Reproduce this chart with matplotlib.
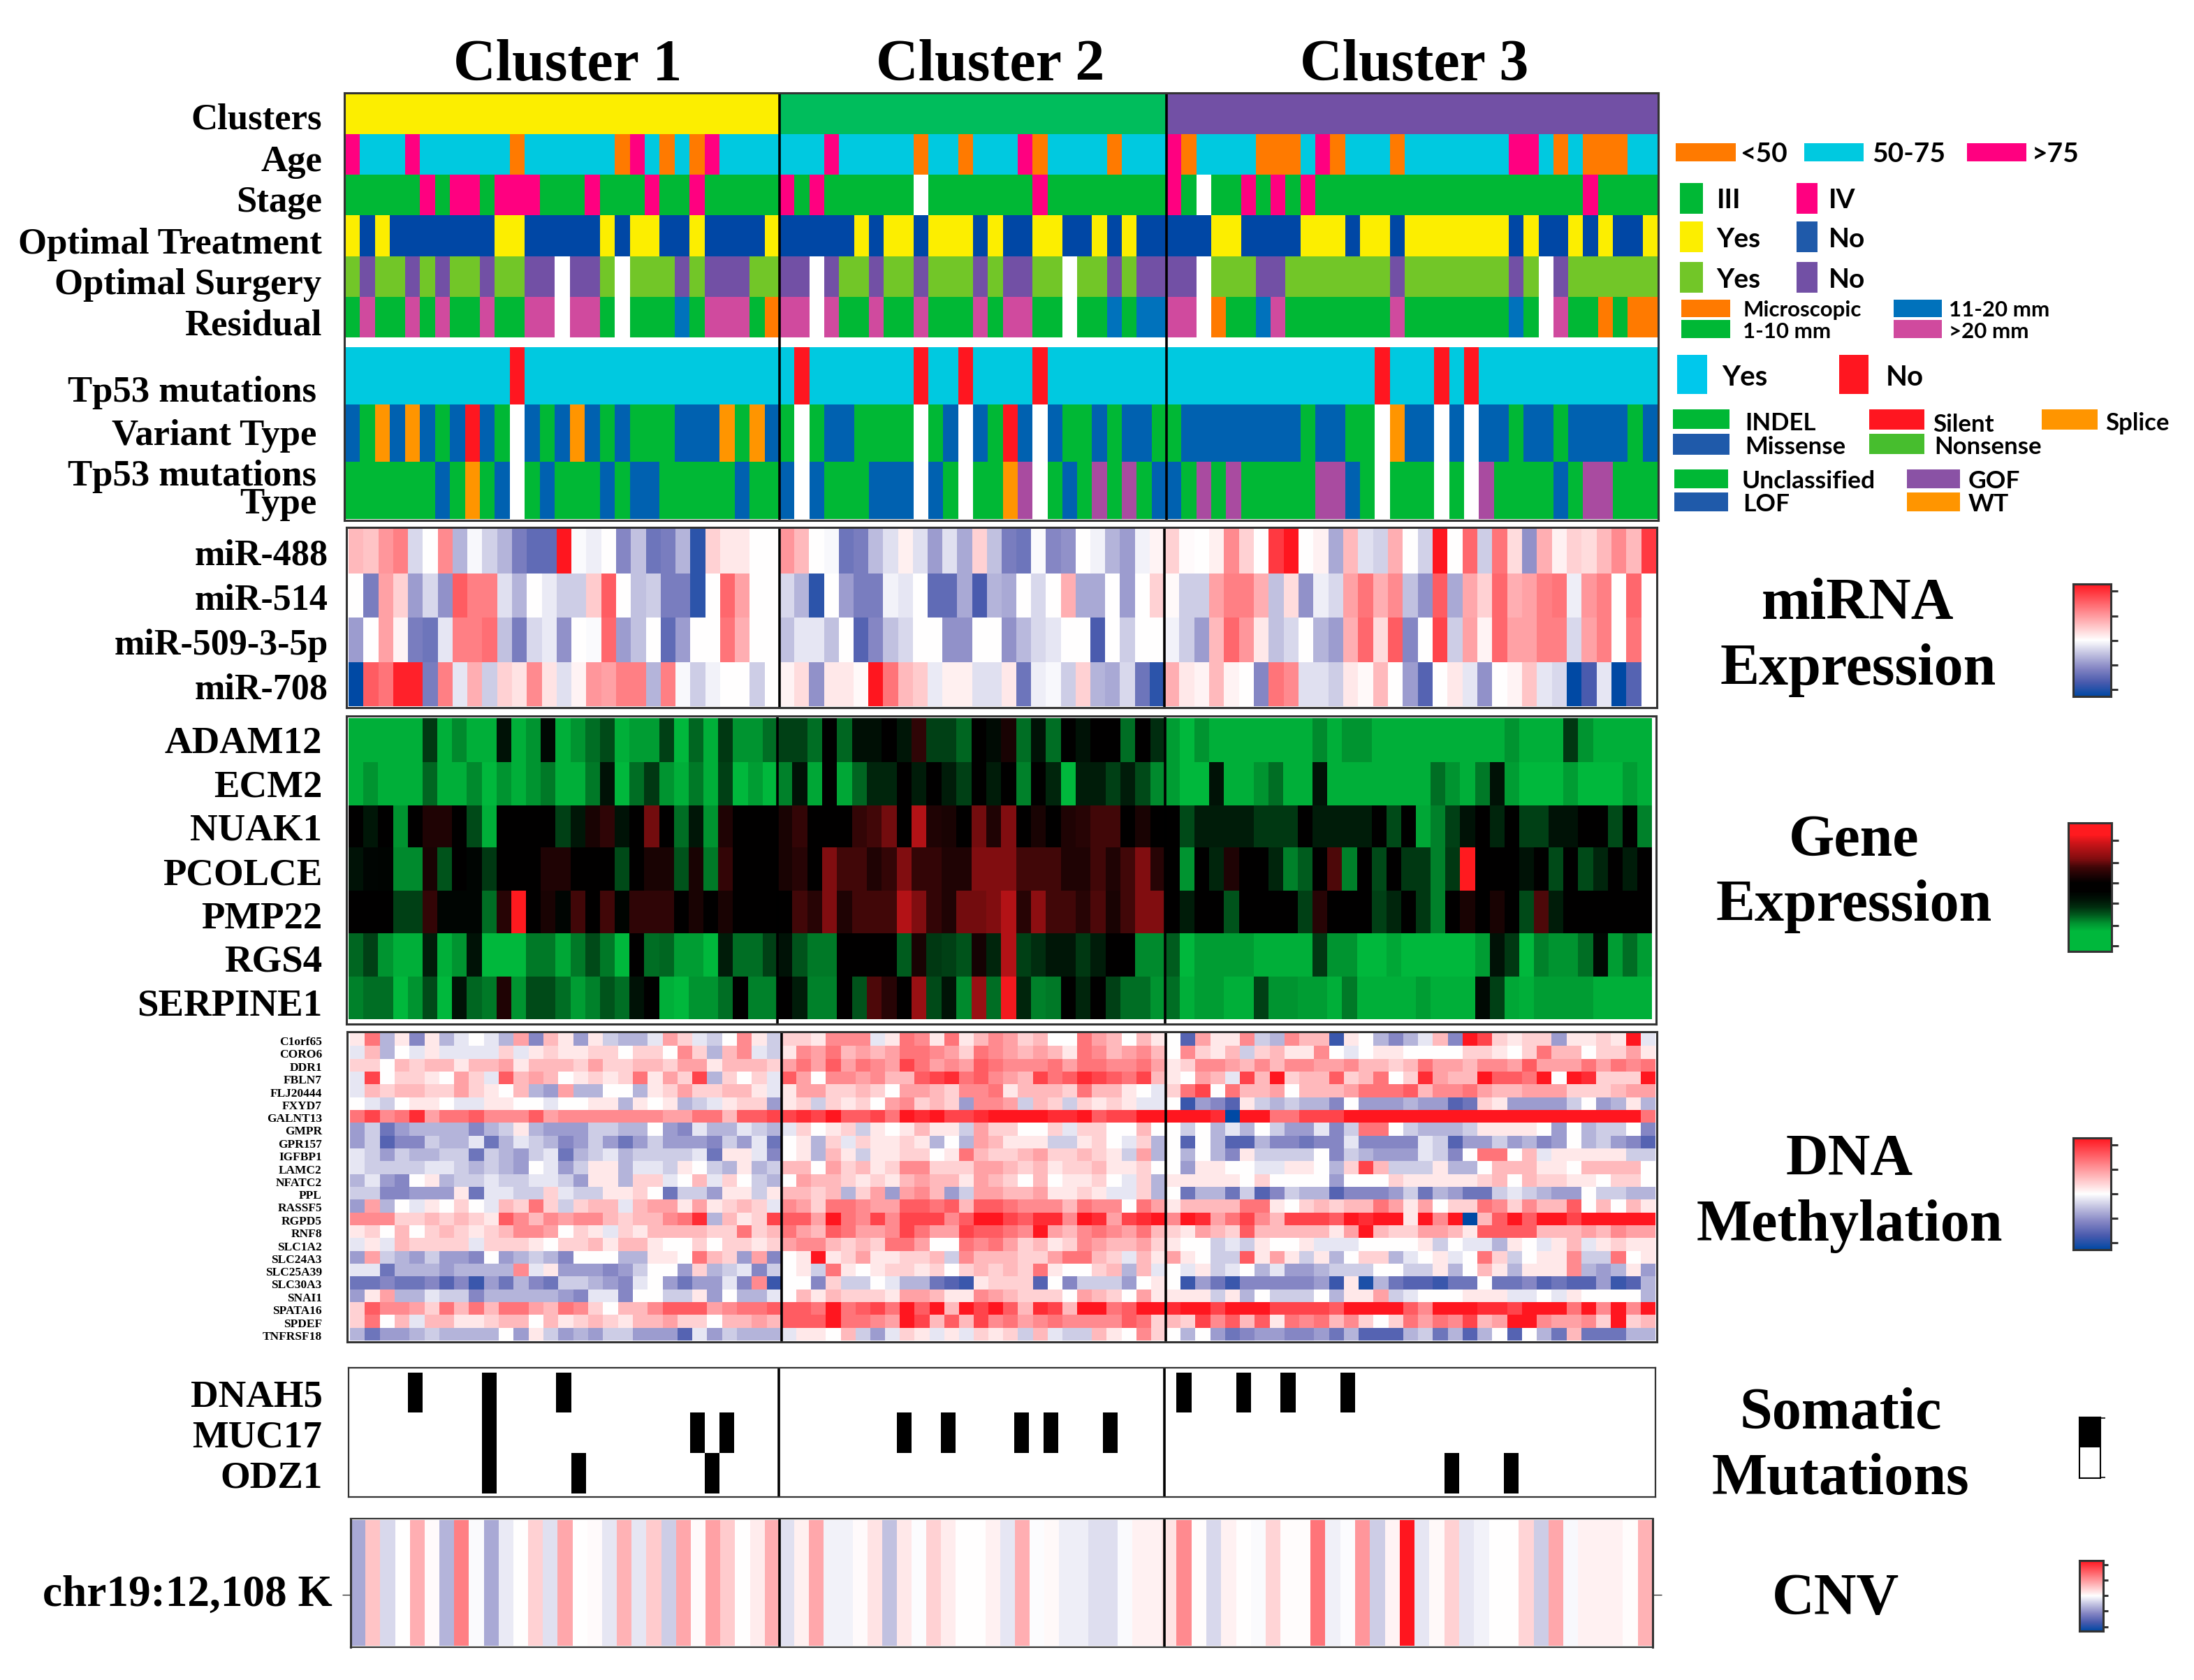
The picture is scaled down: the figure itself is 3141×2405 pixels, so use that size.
"""卵巣がんクラスタのヒートマップ"""

import matplotlib
matplotlib.use("Agg")
import matplotlib.pyplot as plt
import numpy as np
from matplotlib.colors import LinearSegmentedColormap, Normalize, to_rgb
from matplotlib.patches import Rectangle

W, H = 3141, 2405
SERIF = "Liberation Serif"
SANS = "Lato"

# annotation rows, one character per sample
CLUSTERS = "Y" * 29 + "N" * 26 + "U" * 33
AGE = "PCCCPCCCCCCOCCCCCCOPCOCOPCCCC" + "CCCPCCCCCOCCOCCCPOCCCCOCCC" + "POCCCCOOOCPOCCCOCCCCCCCPPCOCOOOCC"
STAGE = "GGGGGPGPPGPPPGGGPGGGPGGPGGGGG" + "PGPGGGGGGWGGGGGGGPGGGGGGGG" + "PGWGGPGPGPGGGGGGGGGGGGGGGGGGPGGGG"
TREATMENT = "YBYBBBBBBBYYBBBBBYBYYBBYBBBBY" + "BBBBBYBYYBYYYBYBBYYBBYBYBB" + "BBBYYBBBBYYYBYYBYYYYYYYBYBBYBYBBY"
SURGERY = "LVLLVLVLLVLLVVWVVLWLLLVLVVVLL" + "VVWVLLVLLVLLLVLVVLLWLLVLVV" + "VVWLLLVVLLLLLLLVLLLLLLLVLWVLLLLLL"
RESIDUAL = "GMGGMGMGGMGGMMWMMGWGGGTGMMMGO" + "MMWMGGMGGMGGGMGMMGGWGGTGTT" + "MMWOGGTMGGGGGGGMGGGGGGGTGWMGGOGOO"
GAP = "W" * 88
TP53 = "CCCCCCCCCCCRCCCCCCCCCCCCCCCCC" + "CRCCCCCCCRCCRCCCCRCCCCCCCC" + "CCCCCCCCCCCCCCRCCCRCRCCCCCCCCCCCC"
VARIANT = "BGOBOBGBRBGWBGBOBGBGGGBBBOGOB" + "GWGBBGGGGWGBWBGRBWBGGBGBBG" + "GBBBBBBBBGBBGGWOBBWBWBBGBBGBBBBGB"
TP53_TYPE = "GGGGGGBGOGBWGBGGGBGBBGGGGGBGG" + "BWBGGGBBBWBGWGGOVWGBGVGVGB" + "BGVGVGGGGGVVBGWGGGWGWVGGGGBGVVGGG"

ANNOT_LABELS = ["Clusters", "Age", "Stage", "Optimal Treatment", "Optimal Surgery",
                "Residual", "Tp53 mutations", "Variant Type", "Tp53 mutations\nType"]

MIRNA_LABELS = ["miR-488", "miR-514", "miR-509-3-5p", "miR-708"]
MIRNA_C1 = [
    [.3, .25, .45, .55, -.15, 0, .5, -.3, -.03, -.18, -.3, -.55, -.65, -.65, 1, -.02, -.07, 0, -.5, -.25, -.6, -.55, -.3, -.85, .2, .1, .1, 0, 0],
    [0, -.55, .4, .2, -.4, -.15, -.45, .7, .55, .55, -.12, -.3, 0, -.08, -.2, -.2, .22, .7, 0, -.25, -.2, -.55, -.55, -.85, 0, .65, .4, 0, 0],
    [-.4, 0, .4, .05, -.55, -.6, -.1, .55, .55, .62, -.25, -.55, -.15, -.08, -.45, 0, -.02, .65, -.4, -.25, 0, -.65, -.4, 0, 0, .6, .35, 0, 0],
    [-1, .7, .6, .95, .95, -.55, .55, -.1, .35, -.2, .2, .12, .5, .12, -.12, .05, .45, .4, .55, .55, -.3, .55, -.03, -.2, -.05, 0, 0, -.2, 0],
]
MIRNA_C2 = [
    [.45, .3, 0, -.03, -.6, -.55, -.27, -.12, .07, -.12, -.4, -.12, -.35, .2, -.25, -.55, -.6, -.02, -.5, -.45, 0, -.05, -.3, -.4, -.05, .05],
    [-.15, -.3, -.85, 0, -.4, -.55, -.55, -.05, -.1, 0, -.65, -.65, -.35, -.75, -.3, -.35, 0, -.15, 0, .35, -.35, -.35, 0, -.4, 0, .2],
    [-.25, -.1, -.1, -.25, 0, -.7, -.5, -.25, -.15, 0, 0, -.45, -.45, 0, 0, -.45, -.28, -.15, -.1, 0, 0, -.75, 0, -.2, 0, 0],
    [.05, .15, -.45, .1, .1, .03, 1, .6, .3, .22, -.08, .07, .07, -.12, -.12, .1, -.6, -.07, -.03, -.2, .2, -.3, -.35, -.15, -.6, -.85],
]
MIRNA_C3 = [
    [.2, .02, 0, .07, .5, .2, 0, .85, 1, 0, .06, -.35, .3, -.12, -.18, .35, 0, -.18, 1, 0, .65, -.2, .6, .15, -.45, .35, .06, .2, .15, .3, .5, .3, .85],
    [.03, -.2, -.2, .4, .55, .55, .35, -.25, .15, -.45, -.07, -.15, .4, .6, .35, .5, -.25, -.45, .7, -.35, .38, .2, .65, .35, .4, .55, .6, -.07, .45, .55, 0, .65, 0],
    [-.05, -.2, -.4, .3, .65, .45, .1, -.25, -.15, 0, -.3, -.4, .35, .65, .15, .7, -.5, 0, .8, -.2, .4, .05, .65, .4, .4, .55, .55, -.15, .4, .55, 0, .6, 0],
    [.35, .1, .05, .3, .05, 0, -.5, .6, .5, -.12, -.12, -.2, .1, .03, .3, 0, -.4, -.7, 0, .1, -.1, -.45, 0, .05, .25, -.1, -.15, -1, -.75, -.1, -1, -.7, 0],
]

GENE_LABELS = ["ADAM12", "ECM2", "NUAK1", "PCOLCE", "PMP22", "RGS4", "SERPINE1"]
GENE_C1 = [
    [-.95, -.95, -.95, -.95, -.95, -.3, -.95, -.75, -.95, -.95, -.1, -.95, -.8, -.05, -.95, -.8, -.6, -.4, -.95, -.85, -.85, -.35, -1, -.55, -.95, -.3, -.8, -.8, -.6],
    [-.95, -.8, -.95, -.95, -.95, -.55, -.95, -.95, -.75, -1, -.8, -.95, -.8, -.65, -.95, -.95, -.65, -.1, -1, -.6, -.3, -.8, -.95, -.65, -.95, -.35, -1, -.85, -1],
    [0, -.12, 0, -.8, 0, .12, .12, 0, -.4, -.95, 0, 0, 0, 0, -.35, -.12, .1, .18, -.1, 0, .45, 0, -.6, -.12, -.8, .12, 0, 0, 0],
    [-.1, -.03, -.02, -.75, -.75, .1, -.45, 0, -.03, -.3, 0, 0, 0, .12, .12, 0, 0, 0, -.4, 0, .1, .1, -.45, .1, -.65, .2, 0, 0, 0],
    [0, 0, 0, -.35, -.35, .2, -.03, -.03, -.03, -.6, .15, 1, 0, .1, -.03, .25, 0, .25, -.02, .18, .18, .18, 0, .1, 0, .1, 0, 0, 0],
    [-.55, -.35, -.8, -.95, -.95, -.15, -.95, -.8, -.1, -1, -1, -1, -.65, -.65, -.9, -.65, -.4, -.65, -1, 0, -.6, -.55, -.85, -.85, -1, -.15, -.6, -.6, -.35],
    [-.7, -.6, -.6, -1, -.8, -.4, -1, -.1, -.55, -.65, .12, -.8, -.4, -.4, -.6, -.85, -.7, -.45, -.6, -.1, 0, -.95, -1, -.8, -.8, -.6, 0, -.7, -.7],
]
GENE_C2 = [
    [-.35, -.35, -.6, 0, -.55, -.08, -.08, 0, -.12, .18, -.35, -.35, -.55, 0, -.06, .1, -.6, -.1, -.6, 0, -.1, 0, 0, -.6, 0, -.25],
    [-.7, -.1, -.9, 0, -.9, -.55, -.2, -.2, 0, -.15, 0, -.15, -.35, 0, -.15, 0, -.7, 0, -.2, -1, -.15, -.15, -.35, -.15, -.4, -.75],
    [.1, .2, 0, 0, 0, .2, .25, .45, 0, .7, .12, .1, 0, .45, .12, .5, 0, .1, 0, .12, .15, .25, .25, 0, .1, 0],
    [.1, .15, 0, .5, .25, .25, .12, .2, .5, .2, .2, .12, .12, .5, .5, .5, .25, .25, .25, .12, .12, .25, .12, .25, .5, .15],
    [0, .25, .15, .5, .12, .25, .25, .25, .7, .5, .2, .12, .45, .45, .5, .7, .15, .55, .25, .25, .15, .3, .1, .25, .5, .5],
    [-.1, -.45, -.65, -.65, 0, 0, 0, 0, -.5, .1, -.3, -.35, -.45, .08, -.2, .7, -.35, -.25, -.12, -.12, -.3, -.15, 0, 0, -.75, -.75],
    [0, -.15, -.7, -.7, 0, -.45, .3, .15, 0, .6, -.4, -.1, -.75, .6, -.6, .95, -.2, -.7, -.65, 0, -.2, 0, -.35, -.6, -.6, -.8],
]
GENE_C3 = [
    [-.85, -1, -.8, -.95, -.95, -.95, -.95, -.95, -.95, -.95, -.75, -.95, -.8, -.8, -.95, -.95, -.95, -.95, -.95, -.95, -.95, -.95, -.95, -.8, -.95, -.95, -.95, -.3, -.8, -.95, -.95, -.95, -.95],
    [-.85, -1, -1, -.1, -.95, -.95, -.8, -.6, -.95, -.95, -.1, -.95, -.95, -.95, -.95, -.95, -.95, -.95, -.6, -.8, -.95, -.65, -.1, -.85, -1, -1, -1, -.85, -1, -1, -1, -.85, -.95],
    [0, -.4, -.15, -.15, -.15, -.15, -.3, -.3, -.3, 0, -.15, -.15, -.15, -.15, 0, -.4, 0, -.9, -.7, -.35, -.1, 0, -.2, 0, -.35, -.35, -.1, -.1, 0, 0, -.4, 0, -.7],
    [0, -.8, 0, -.2, .12, 0, 0, -.2, -.7, -.5, 0, .3, -.7, 0, -.4, 0, -.3, -.3, -.7, -.3, 1, 0, 0, 0, -.1, 0, -.4, 0, -.4, -.2, 0, -.15, 0],
    [0, -.15, 0, 0, -.45, 0, 0, 0, 0, -.35, .15, 0, 0, 0, -.35, -.2, 0, -.3, -.7, 0, .1, 0, .1, 0, -.4, .3, -.15, 0, 0, 0, 0, 0, 0],
    [-.5, -1, -.85, -.85, -.85, -.85, -.95, -.95, -.95, -.95, -.3, -.8, -.8, -1, -1, -.9, -1, -1, -1, -1, -1, -.85, -.1, -.3, -1, -.7, -.8, -.8, -.6, -.05, -.85, -.6, -.85],
    [-.6, -.95, -.85, -.85, -.95, -.95, -.35, -.8, -.8, -.85, -.85, -.95, -.65, -.95, -.95, -.95, -.95, -.85, -.95, -.95, -.95, -.05, -.35, -.9, -.95, -.85, -.85, -.85, -.85, -.95, -.95, -.95, -.95],
]
GENE_BAR = [1, 1, .8, .65, .5, .25, .12, 0, 0, -.1, -.25, -.5, -.8, -1, -1, -1]

METH_LABELS = ["C1orf65", "CORO6", "DDR1", "FBLN7", "FLJ20444", "FXYD7", "GALNT13", "GMPR",
               "GPR157", "IGFBP1", "LAMC2", "NFATC2", "PPL", "RASSF5", "RGPD5", "RNF8",
               "SLC1A2", "SLC24A3", "SLC25A39", "SLC30A3", "SNAI1", "SPATA16", "SPDEF", "TNFRSF18"]
# 1-9,X = red levels, a-j = blue levels, 0 = white
METH_C1 = [
    "16c1e1ca0ac4e31d1bcca42ab051b",
    "a3c0a1aaaa" + "2a12112202" + "2052c35ab",
    "2203233133" + "4133324223" + "324413332",
    "a80221042a" + "7343012126" + "1428c202a",
    "a323322421" + "03cd4cc00c" + "12422331a",
    "0ab0110aa1" + "100a0011c1" + "01cba122d",
    "6856946675" + "5574555555" + "544663778",
    "dbfdccccec" + "b1cdddbbcc" + "0deaccabc",
    "dbgeebccaf" + "cabcedbdfd" + "bdddebdaf",
    "abdbccbbfb" + "cdbafcbacb" + "bbbaf11ae",
    "abbbbaabcb" + "cd0adb11ca" + "ab10bc1cb",
    "cade01cbba" + "bbaabd11c2" + "2a03a20bc",
    "bbeeddd1fa" + "abb2abb112" + "0fbbd11b1",
    "d4c0a1020a" + "3262b233a3" + "44141232a",
    "5552232321" + "7535455323" + "3569c3128",
    "1203023212" + "3554021a21" + "333322623",
    "a1a32222a2" + "2210223133" + "100202212",
    "d4bcdbdde0" + "dcbce000cc" + "110632d4e",
    "aafcccdccc" + "c5a1dddedb" + "00d2cbaeb",
    "ffeffegehd" + "fcefbbcdea" + "0dfddae5h",
    "d14ccabbec" + "ccccdeaae0" + "0bb1d0cca",
    "2755426363" + "6643652033" + "577745667",
    "2603a33112" + "3303123213" + "342203343",
    "cfddcbcccc" + "0d1bdcdbbd" + "ddgadbccc",
]
METH_C2 = [
    "221555a165" + "161354" + "2300643031",
    "1546343466" + "542654" + "3431653453",
    "4647465486" + "454765" + "5564665564",
    "7405545337" + "896754" + "3867987683",
    "1442232044" + "325561" + "333263310a",
    "12b2120452" + "32d554" + "b32b2121aa",
    "898X7786X9" + "X889XX" + "XX99X788XX",
    "a2012b1013" + "11b422" + "002a220030",
    "01c2a21121" + "c0c431" + "11bb120a2c",
    "01c31b1122" + "016322" + "3422321b4c",
    "3304231255" + "222443" + "2312231120",
    "0433212134" + "331432" + "0301120a2c",
    "3323c24d45" + "3db443" + "341121aa2c",
    "5426654477" + "673776" + "5553655064",
    "774X658588" + "857XX8" + "7995X9489X",
    "6437644586" + "448776" + "5X43565463",
    "4553232664" + "006564" + "2312543342",
    "01X1241122" + "3b5333" + "2246632a31",
    "01b6101221" + "202323" + "2610023c3a",
    "00e2bb0acc" + "fgh122" + "2g0ebbbd01",
    "0313222144" + "311543" + "2220432041",
    "776X6786X7" + "X3X8X7" + "3983XX67XX",
    "777X6654X8" + "373856" + "4565555762",
    "a1103bda21" + "a1a212" + "b3abb31052",
]
METH_C3 = [
    "0g4115bc53" + "3h10ceca3e" + "X82122d112" + "1Xa",
    "05213b2311" + "50a0110000" + "2210263302" + "241",
    "1255435355" + "4453323644" + "3554744464" + "656",
    "1043a83X23" + "3723602943" + "3X776X0X92" + "22X",
    "2680633403" + "3346667355" + "6433444222" + "344",
    "0hdeg1bcbc" + "ce0dddcddg" + "f21ddddb0d" + "c1c",
    "XXX9jXX668" + "88XXXXXXXX" + "XXXXXXXXXX" + "XX6",
    "0b0cac0bdd" + "aeb660bccc" + "b11110d0cb" + "b0e",
    "0g0cggceef" + "eeaeeeeabg" + "ddbdced0cb" + "deg",
    "0c0ce1bbbb" + "0ebcdddabe" + "06603a1111" + "1bb",
    "0d1100aa11" + "0c283bbb1c" + "c033311033" + "330",
    "1111102000" + "0d00021111" + "1230322110" + "220",
    "0fccfbgebc" + "cgeeedbfcd" + "ffbabcdd0b" + "bcc",
    "1333366102" + "3233641402" + "2652533703" + "031",
    "5X94685388" + "87X9XX1X5X" + "j37X7XX8XX" + "XXX",
    "2143273333" + "314X322443" + "1777733343" + "544",
    "100bab1001" + "aaa00001b0" + "aac10a13a1" + "211",
    "410bb7141b" + "1c022ca01a" + "062b0115bb" + "601",
    "0a1ba0cadd" + "cbbb00bb1c" + "031c1115cd" + "c1d",
    "0hdfheeeee" + "dh1icfgghf" + "f0ffegfggd" + "hgc",
    "111b1c0bbb" + "0c114ba000" + "111aa0a100" + "00c",
    "9XX8XXX888" + "87XXXX75XX" + "X998XXX6X5" + "X5X",
    "3285737165" + "6352026465" + "834XX54452" + "X23",
    "0c0dfeddee" + "dfcgggcbfc" + "gc0g0cf3ff" + "fcc",
]

MUT_LABELS = ["DNAH5", "MUC17", "ODZ1"]
DNAH5 = [4, 9, 14, 56, 60, 63, 67]
MUC17 = [9, 23, 25, 37, 40, 45, 47, 51]
ODZ1 = [9, 15, 24, 74, 78]

CNV_C1 = [-.35, .25, -.15, 0, .35, .02, -.3, .55, -.02, -.35, -.08, 0, .2, -.12, .38, 0, .02, -.1, .33, -.1, .22, -.2, .38, .02, .4, .22, 0, .08, .35]
CNV_C2 = [-.12, .07, .38, -.05, -.05, .02, .12, -.25, .1, -.01, .2, .08, 0, 0, .06, -.1, .35, -.01, .03, -.07, -.07, -.13, -.13, -.02, .06, .06]
CNV_C3 = [.12, .5, .01, -.15, .06, 0, -.02, .18, .01, .01, .6, -.06, -.01, .45, -.2, .05, 1, -.1, .03, .2, -.1, -.05, 0, 0, .18, -.2, .38, -.03, .06, .06, .06, .01, .33]

# 配色
GREEN = "#00b835"
BLUE = "#0061b0"
CYAN = "#00c9e0"
PINK = "#ff0080"
ORANGE = "#ff7a00"
AMBER = "#ff9500"
YELLOW = "#fcee00"
RED = "#ff1620"
VIOLET = "#7250a5"
NAVY = "#0047a5"
LIME = "#72c628"
MAGENTA = "#d04a9e"
TYPE_VIOLET = "#a94ba0"
EDGE = "#333333"

ANNOT_ROWS = [
    (CLUSTERS, {"Y": YELLOW, "N": "#00bd5c", "U": VIOLET}),
    (AGE, {"P": PINK, "C": CYAN, "O": ORANGE}),
    (STAGE, {"G": GREEN, "P": PINK, "W": "white"}),
    (TREATMENT, {"Y": YELLOW, "B": NAVY}),
    (SURGERY, {"L": LIME, "V": VIOLET, "W": "white"}),
    (RESIDUAL, {"G": GREEN, "M": MAGENTA, "O": ORANGE, "T": "#0072bc", "W": "white"}),
    (GAP, {"W": "white"}),
    (TP53, {"C": CYAN, "R": RED}),
    (VARIANT, {"G": GREEN, "B": BLUE, "O": AMBER, "R": RED, "W": "white"}),
    (TP53_TYPE, {"G": GREEN, "B": BLUE, "O": AMBER, "V": TYPE_VIOLET, "W": "white"}),
]

BWR = LinearSegmentedColormap.from_list("bwr_ref", [
    (0, "#0049a4"), (.125, "#4a5bae"), (.25, "#8586c4"), (.375, "#c0c0e0"),
    (.5, "#ffffff"), (.75, "#ff8b90"), (1, "#ff161f")])
GBR = LinearSegmentedColormap.from_list("gbr_ref", [
    (0, "#00b83c"), (.5, "#000000"), (1, "#ff1a1f")])
NORM = Normalize(-1, 1)

plt.rcParams["font.family"] = [SERIF, "DejaVu Serif"]
fig = plt.figure(figsize=(W / 100, H / 100), dpi=100, facecolor="white")


def px_axes(x0, y0, x1, y1):
    """ピクセル座標で軸を作成"""
    ax = fig.add_axes([x0 / W, 1 - y1 / H, (x1 - x0) / W, (y1 - y0) / H])
    ax.set_xlim(x0, x1)
    ax.set_ylim(y1, y0)
    ax.set_xticks([])
    ax.set_yticks([])
    for spine in ax.spines.values():
        spine.set_linewidth(2.2)
        spine.set_edgecolor(EDGE)
    return ax


def col_edges(x0, b1, b2, x1):
    return np.concatenate([
        np.linspace(x0, b1, 30),
        np.linspace(b1, b2, 27)[1:],
        np.linspace(b2, x1, 34)[1:],
    ])


def set_labels(ax, centers, labels, size, pad, weight="bold"):
    ax.set_yticks(centers, labels, fontfamily=SERIF, fontweight=weight, fontsize=size)
    ax.tick_params(axis="y", length=0, pad=pad)


def dividers(ax, b1, b2, lw=2.6):
    ax.axvline(b1, color="black", lw=lw)
    ax.axvline(b2, color="black", lw=lw)


def decode_meth(rows):
    levels = {"0": 0, "X": 1}
    levels.update({str(i): i / 10 for i in range(1, 10)})
    levels.update({c: -(i + 1) / 10 for i, c in enumerate("abcdefghij")})
    return np.array([[levels[c] for c in row] for row in rows])


# アノテーション
annot_y = np.array([134, 192, 250, 308, 367, 425, 483, 497, 579, 661, 743])
ax = px_axes(493, 133, 2374, 745)
rgb = np.array([[to_rgb(pal[c]) for c in row] for row, pal in ANNOT_ROWS])
ax.pcolormesh(col_edges(494, 1116, 1670, 2373), annot_y, rgb, antialiased=False)
dividers(ax, 1116, 1670)

# miRNA
mirna = np.hstack([np.array(MIRNA_C1), np.array(MIRNA_C2), np.array(MIRNA_C3)])
mirna_y = [757, 821, 884, 948, 1011]
ax = px_axes(496, 755, 2372, 1013)
ax.pcolormesh(col_edges(499, 1116, 1667, 2371), mirna_y, mirna, cmap=BWR, norm=NORM, antialiased=False)
dividers(ax, 1116, 1667)
set_labels(ax, np.array([790, 854, 918, 982]), MIRNA_LABELS, 37.5, 19)

# 遺伝子発現
gene = np.hstack([np.array(GENE_C1), np.array(GENE_C2), np.array(GENE_C3)])
gene_y = [1028, 1091, 1153, 1213, 1275, 1336, 1398, 1459]
ax = px_axes(496, 1025, 2371, 1466)
ax.pcolormesh(col_edges(499, 1113, 1668, 2365), gene_y, gene, cmap=GBR, norm=NORM, antialiased=False)
dividers(ax, 1113, 1668)
set_labels(ax, np.array([1059, 1122, 1184, 1248, 1310, 1372, 1435]), GENE_LABELS, 39.5, 25)

# メチル化
meth = np.hstack([decode_meth(METH_C1), decode_meth(METH_C2), decode_meth(METH_C3)])
meth_y = np.linspace(1479, 1919, 25)
ax = px_axes(497, 1477, 2372, 1921)
ax.pcolormesh(col_edges(501, 1119, 1669, 2370), meth_y, meth, cmap=BWR, norm=NORM, antialiased=False)
dividers(ax, 1119, 1669)
set_labels(ax, (meth_y[:-1] + meth_y[1:]) / 2 + 2, METH_LABELS, 12.5, 26)

# 体細胞変異
mut = np.zeros((3, 88))
for i, cols in enumerate([DNAH5, MUC17, ODZ1]):
    mut[i, cols] = 1
ax = px_axes(499, 1958, 2370, 2143)
ax.pcolormesh(col_edges(499, 1115, 1663, 2366), [1965, 2022, 2080, 2138], mut,
              cmap="Greys", vmin=0, vmax=1, antialiased=False)
dividers(ax, 1115, 1667)
set_labels(ax, np.array([1994, 2052, 2110]), MUT_LABELS, 39.5, 27)
for spine in ax.spines.values():
    spine.set_linewidth(1.6)

# CNV
cnv = np.array([CNV_C1 + CNV_C2 + CNV_C3])
ax = px_axes(502, 2174, 2366, 2358)
ax.pcolormesh(col_edges(502, 1116, 1663, 2366), [2176, 2356], cnv, cmap=BWR, norm=NORM, antialiased=False)
dividers(ax, 1116, 1667)
ax.set_yticks([2283], [""])
ax.tick_params(axis="y", length=9, width=1, right=True, color=EDGE)
for spine in ("top", "bottom"):
    ax.spines[spine].set_linewidth(1.6)


def colorbar(x0, y0, x1, y1, ticks, values=None, tick_len=7):
    """カラーバーを描画"""
    cax = px_axes(x0, y0, x1, y1)
    if values is None:
        cax.imshow(np.linspace(1, -1, 256)[:, None], cmap=BWR, norm=NORM, aspect="auto",
                   extent=(x0, x1, y1, y0))
    else:
        cax.imshow(np.array(values)[:, None], cmap=GBR, norm=NORM, aspect="auto",
                   extent=(x0, x1, y1, y0), interpolation="bilinear")
    cax.yaxis.tick_right()
    cax.set_yticks(ticks, [""] * len(ticks))
    cax.tick_params(axis="y", length=tick_len, width=2.2, color=EDGE)


colorbar(2968, 836, 3022, 997, [846.5, 882, 917, 952, 987])
colorbar(2961, 1178, 3023, 1362, [1203, 1235, 1264, 1293, 1325, 1354], values=GENE_BAR)
colorbar(2968, 1629, 3022, 1789, [1639, 1674, 1709, 1744, 1779])
colorbar(2977, 2234, 3011, 2335, [2240, 2262, 2284, 2306, 2329], tick_len=5)

cax = px_axes(2977, 2029, 3007, 2116)
cax.pcolormesh([2977, 3007], [2029, 2072, 2116], [[1], [0]], cmap="Greys", vmin=0, vmax=1)
cax.yaxis.tick_right()
cax.set_yticks([2030, 2115], ["", ""])
cax.tick_params(axis="y", length=5, width=1.5, color=EDGE)
for spine in cax.spines.values():
    spine.set_linewidth(1.5)
    spine.set_edgecolor("black")

# タイトルと凡例
over = fig.add_axes([0, 0, 1, 1], facecolor="none")
over.set_xlim(0, W)
over.set_ylim(H, 0)
over.axis("off")

for x, name in [(813, "Cluster 1"), (1418, "Cluster 2"), (2025, "Cluster 3")]:
    over.text(x, 94, name, ha="center", va="center", fontfamily=SERIF, fontweight="bold", fontsize=60.5)

# 行ラベル
ANNOT_LABEL_POS = [(461, 166), (461, 226), (461, 284), (461, 345), (460, 403),
                   (460, 461), (453, 557), (453, 619), (453, 701)]
for (x, y), name in zip(ANNOT_LABEL_POS, ANNOT_LABELS):
    over.text(x, y, name, ha="right", va="center_baseline", fontfamily=SERIF, fontweight="bold",
              fontsize=38, linespacing=0.78)
over.text(476, 2277, "chr19:12,108 K", ha="right", va="center_baseline", fontfamily=SERIF,
          fontweight="bold", fontsize=45.5)

SIDE_TITLES = [
    (2660, 866, "miRNA"), (2660, 960, "Expression"),
    (2654, 1204, "Gene"), (2654, 1298, "Expression"),
    (2648, 1662, "DNA"), (2648, 1756, "Methylation"),
    (2635, 2024, "Somatic"), (2635, 2118, "Mutations"),
    (2628, 2290, "CNV"),
]
for x, y, name in SIDE_TITLES:
    over.text(x, y, name, ha="center", va="center", fontfamily=SERIF, fontweight="bold", fontsize=60.5)

LEGEND_SWATCHES = [
    (2399, 205, 86, 26, ORANGE), (2583, 205, 85, 26, CYAN), (2816, 205, 85, 26, PINK),
    (2405, 262, 33, 44, GREEN), (2572, 262, 30, 44, PINK),
    (2405, 317, 33, 44, YELLOW), (2572, 317, 30, 44, "#1f5aaa"),
    (2405, 375, 33, 44, LIME), (2572, 375, 30, 44, VIOLET),
    (2407, 429, 70, 25, ORANGE), (2407, 458, 70, 26, GREEN),
    (2711, 429, 69, 25, "#0072bc"), (2711, 458, 69, 26, MAGENTA),
    (2401, 508, 43, 56, "#00c8ec"), (2633, 508, 42, 56, RED),
    (2395, 586, 81, 28, GREEN), (2395, 621, 81, 30, "#1f5aaa"),
    (2676, 586, 79, 29, RED), (2676, 621, 79, 29, "#47be2e"),
    (2923, 586, 80, 29, AMBER),
    (2397, 672, 77, 27, GREEN), (2397, 705, 77, 27, "#1f5aaa"),
    (2730, 672, 76, 27, "#8a52a5"), (2730, 705, 76, 27, AMBER),
]
for x, y, w, h, color in LEGEND_SWATCHES:
    over.add_patch(Rectangle((x, y), w, h, facecolor=color, edgecolor="none"))

LEGEND_TEXTS = [
    (2491, 221, "<50", 28), (2680, 221, "50-75", 28), (2909, 221, ">75", 28),
    (2458, 287, "III", 28), (2618, 287, "IV", 28),
    (2457, 343, "Yes", 28), (2618, 343, "No", 28),
    (2457, 401, "Yes", 28), (2618, 401, "No", 28),
    (2495, 444, "Microscopic", 22.5), (2495, 475, "1-10 mm", 22.5),
    (2790, 444, "11-20 mm", 22.5), (2790, 475, ">20 mm", 22.5),
    (2465, 541, "Yes", 29), (2700, 541, "No", 29),
    (2498, 606, "INDEL", 25), (2498, 640, "Missense", 25),
    (2767, 608, "Silent", 25), (2769, 640, "Nonsense", 25), (3014, 606, "Splice", 25),
    (2494, 689, "Unclassified", 25.5), (2495, 722, "LOF", 25.5),
    (2818, 689, "GOF", 25.5), (2818, 722, "WT", 25.5),
]
for x, y, name, size in LEGEND_TEXTS:
    over.text(x, y, name, ha="left", va="center", fontfamily=SANS, fontweight="bold", fontsize=size)

fig.savefig("out.png", dpi=100)
